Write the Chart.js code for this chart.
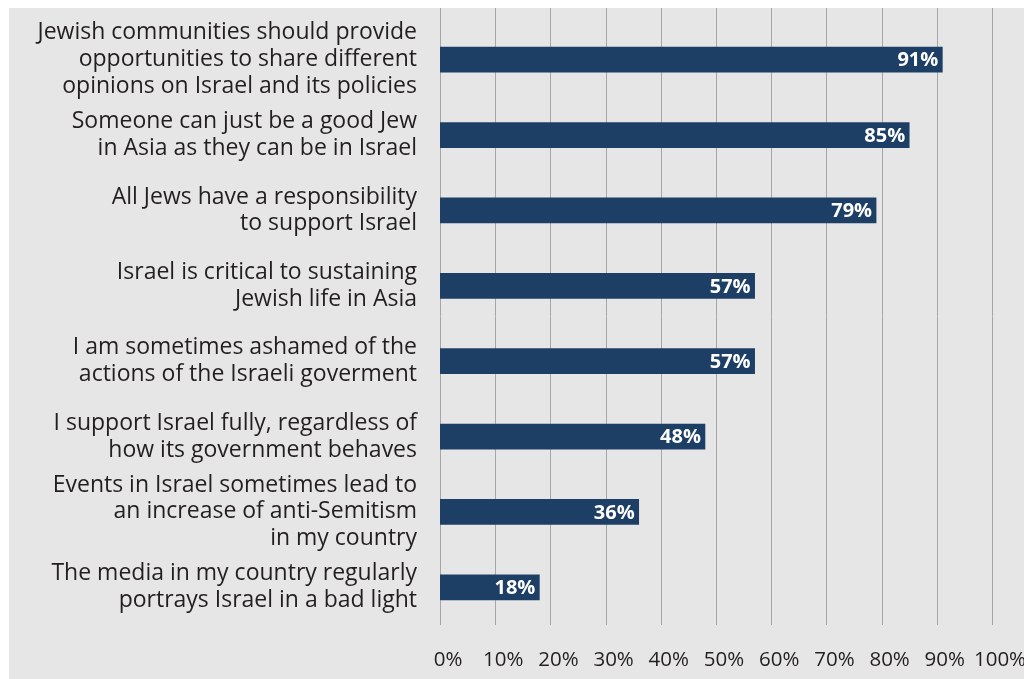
<!DOCTYPE html>
<html>
<head>
<meta charset="utf-8">
<script src="https://cdn.jsdelivr.net/npm/chart.js@4.4.0/dist/chart.umd.min.js"></script>
<style>
  html, body { margin: 0; padding: 0; background: #ffffff; }
  #panel {
    position: absolute;
    left: 9px;
    top: 8px;
    width: 1015px;
    height: 671px;
    background: #e6e6e6;
  }
  #chart { display: block; }
</style>
</head>
<body>
<div id="panel">
  <canvas id="chart" width="1015" height="671"></canvas>
</div>
<script>
// Survey statements (multi-line labels) and share agreeing
const statements = [
    ['Jewish communities should provide', 'opportunities to share different', 'opinions on Israel and its policies'],
    ['Someone can just be a good Jew', 'in Asia as they can be in Israel'],
    ['All Jews have a responsibility', 'to support Israel'],
    ['Israel is critical to sustaining', 'Jewish life in Asia'],
    ['I am sometimes ashamed of the', 'actions of the Israeli goverment'],
    ['I support Israel fully, regardless of', 'how its government behaves'],
    ['Events in Israel sometimes lead to', 'an increase of anti-Semitism', 'in my country'],
    ['The media in my country regularly', 'portrays Israel in a bad light']
];
const agreePct = [91, 85, 79, 57, 57, 48, 36, 18];
const pctTicks = [0, 10, 20, 30, 40, 50, 60, 70, 80, 90, 100];

const BAR_COLOR = '#1d3f66';
const GRID_COLOR = '#a6a6a6';
const TEXT_COLOR = '#231f20';
const FONT = "'Open Sans', 'Noto Sans', sans-serif";

// Vertical gridlines run from the very top of the panel down to the plot bottom
const fullGrid = {
    id: 'fullGrid',
    beforeDatasetsDraw(chart) {
        const { ctx, chartArea, scales } = chart;
        ctx.save();
        ctx.strokeStyle = GRID_COLOR;
        ctx.lineWidth = 1;
        pctTicks.forEach(v => {
            const x = Math.round(scales.x.getPixelForValue(v)) + 0.5;
            ctx.beginPath();
            ctx.moveTo(x, 0);
            ctx.lineTo(x, chartArea.bottom);
            ctx.stroke();
        });
        ctx.restore();
    }
};

// White percentage labels inside the end of each bar
const barValues = {
    id: 'barValues',
    afterDatasetsDraw(chart) {
        const { ctx } = chart;
        const meta = chart.getDatasetMeta(0);
        ctx.save();
        ctx.fillStyle = '#ffffff';
        ctx.font = `bold 20px ${FONT}`;
        ctx.textAlign = 'right';
        ctx.textBaseline = 'middle';
        meta.data.forEach((bar, i) => {
            ctx.fillText(agreePct[i] + '%', bar.x - 4, bar.y + 1);
        });
        ctx.restore();
    }
};

const ctx = document.getElementById('chart').getContext('2d');
new Chart(ctx, {
    type: 'bar',
    data: {
        labels: statements,
        datasets: [{
            data: agreePct,
            backgroundColor: BAR_COLOR,
            borderWidth: 0,
            barThickness: 25
        }]
    },
    options: {
        indexAxis: 'y',
        responsive: false,
        animation: false,
        layout: { padding: { top: 14, right: 32, left: 0, bottom: 0 } },
        plugins: {
            legend: { display: false },
            tooltip: { enabled: false }
        },
        scales: {
            x: {
                min: 0,
                max: 100,
                afterBuildTicks(scale) {
                    scale.ticks = pctTicks.map(v => ({ value: v }));
                },
                afterFit(scale) {
                    scale.height = 54;
                    scale.paddingLeft = 0;
                    scale.paddingRight = 0;
                },
                grid: { display: false, drawTicks: false },
                border: { display: false },
                ticks: {
                    color: TEXT_COLOR,
                    font: { family: FONT, size: 20.5 },
                    padding: 23,
                    labelOffset: 8,
                    maxRotation: 0,
                    autoSkip: false,
                    callback: v => v + '%'
                }
            },
            y: {
                afterFit(scale) {
                    scale.width = 431;
                    scale.paddingTop = 0;
                    scale.paddingBottom = 0;
                },
                grid: { display: false, drawTicks: false },
                border: { display: false },
                ticks: {
                    color: TEXT_COLOR,
                    font: { family: FONT, size: 23, lineHeight: 1.17 },
                    padding: 23,
                    autoSkip: false
                }
            }
        }
    },
    plugins: [fullGrid, barValues]
});
</script>
</body>
</html>
